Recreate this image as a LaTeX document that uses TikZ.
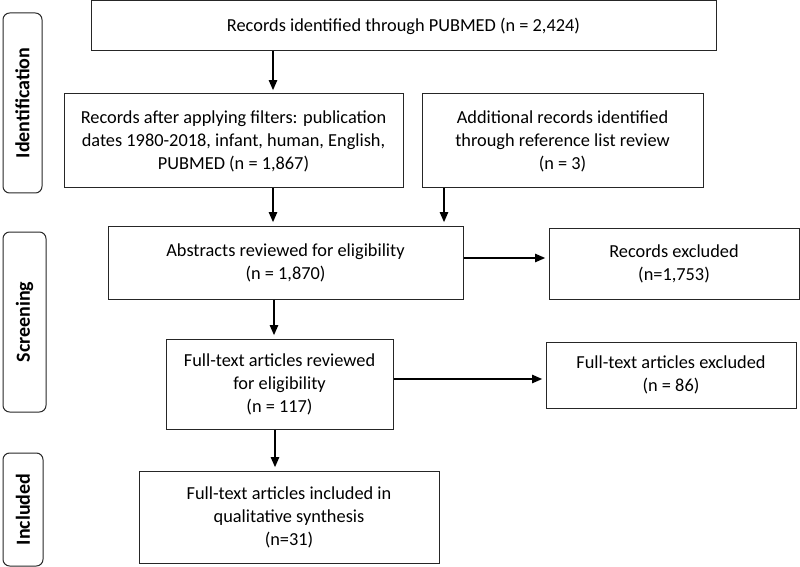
\documentclass[tikz,border=0pt]{standalone}
\usepackage{fontspec}
\setmainfont{Carlito}
\usetikzlibrary{arrows.meta}
\tikzset{
  box/.style={draw=black!85, line width=0.6pt, align=center, inner sep=2pt,
    font=\fontsize{11}{13.8}\selectfont},
  side/.style={draw=black!85, line width=0.6pt, rounded corners=4pt, rotate=90,
    font=\fontsize{12}{14}\selectfont\bfseries},
  arr/.style={-{Triangle[length=6pt,width=5pt]}, line width=0.9pt, shorten >=2pt}
}
\begin{document}
\begin{tikzpicture}[x=0.6pt,y=-0.6pt]
  \useasboundingbox (0,0) rectangle (800,567);
  % phase labels
  \node[side, minimum width=108pt, minimum height=23.4pt] (idlab) at (22.5,103) {Identification};
  \node[side, minimum width=108pt, minimum height=25.8pt] (scrlab) at (24.5,322) {Screening};
  \node[side, minimum width=67.8pt, minimum height=24pt] (inclab) at (23,509.5) {Included};
  % boxes
  \node[box, minimum width=375pt, minimum height=30pt] (pubmed) at (403.5,26)
    {Records identified through PUBMED (n = 2,424)};
  \node[box, minimum width=203.4pt, minimum height=56.4pt] (filtered) at (233.5,141)
    {Records after applying filters: publication\\dates 1980-2018, infant, human, English,\\PUBMED (n = 1,867)};
  \node[box, minimum width=168.6pt, minimum height=56.4pt] (extra) at (562.5,141)
    {Additional records identified\\through reference list review\\(n = 3)};
  \node[box, minimum width=213pt, minimum height=43.8pt] (abstracts) at (285.5,262.5)
    {Abstracts reviewed for eligibility\\(n = 1,870)};
  \node[box, minimum width=150pt, minimum height=42.6pt] (excluded) at (674,263.5)
    {Records excluded\\(n=1,753)};
  \node[box, minimum width=136.2pt, minimum height=54pt] (fulltext) at (279.5,384)
    {Full-text articles reviewed\\for eligibility\\(n = 117)};
  \node[box, minimum width=150pt, minimum height=39.6pt] (ftexcl) at (671,375)
    {Full-text articles excluded\\(n = 86)};
  \node[box, minimum width=180pt, minimum height=55.2pt] (included) at (289,517)
    {Full-text articles included in\\qualitative synthesis\\(n=31)};
  % arrows
  \draw[arr] (273,0 |- pubmed.south) -- (273,0 |- filtered.north);
  \draw[arr] (273,0 |- filtered.south) -- (273,0 |- abstracts.north);
  \draw[arr] (444,0 |- extra.south) -- (444,0 |- abstracts.north);
  \draw[arr] (274,0 |- abstracts.south) -- (274,0 |- fulltext.north);
  \draw[arr] (275,0 |- fulltext.south) -- (275,0 |- included.north);
  \draw[arr] (abstracts.east |- 0,258) -- (excluded.west |- 0,258);
  \draw[arr] (fulltext.east |- 0,379) -- (ftexcl.west |- 0,379);
\end{tikzpicture}
\end{document}
